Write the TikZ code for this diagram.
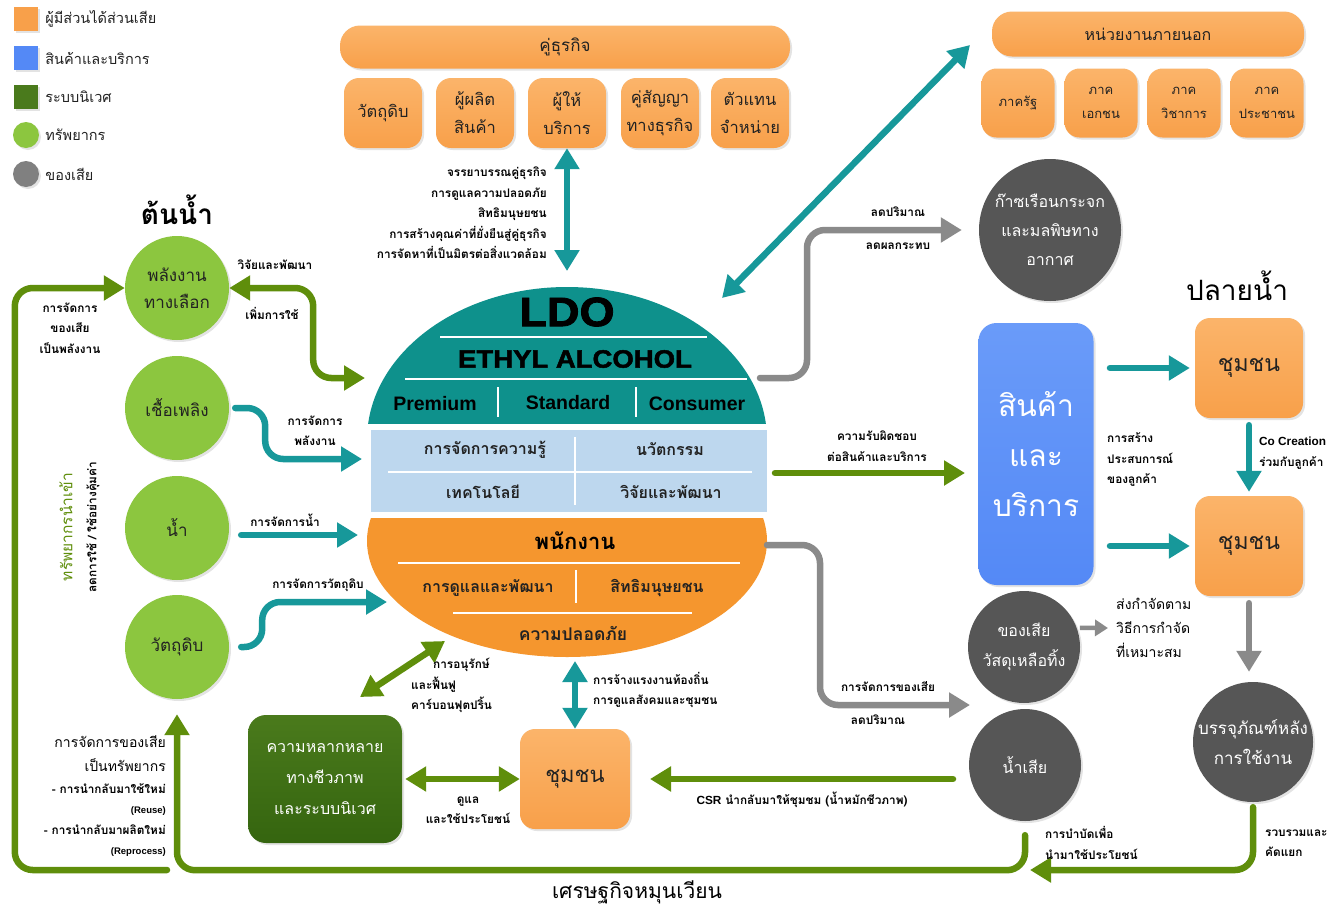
\documentclass[tikz,border=0pt]{standalone}
\usepackage{fontspec}
\setmainfont[Script=Thai]{Loma}
\newfontfamily\latf{Liberation Sans}
\newfontfamily\heavyf[FakeBold=2,FakeStretch=1.1]{Liberation Sans Bold}
\usetikzlibrary{arrows.meta,positioning,shadows}
\definecolor{orangeC}{HTML}{F8A04A}
\definecolor{orangeL}{HTML}{FBB46A}
\definecolor{orangeE}{HTML}{F5962E}
\definecolor{tealC}{HTML}{0E918C}
\definecolor{tealA}{HTML}{17989A}
\definecolor{lblue}{HTML}{BDD7EE}
\definecolor{blueC}{HTML}{5489F6}
\definecolor{blueL}{HTML}{6A9BF9}
\definecolor{dgreen}{HTML}{35650F}
\definecolor{dgreenL}{HTML}{4A7A1C}
\definecolor{lgreen}{HTML}{8CC63F}
\definecolor{garr}{HTML}{5F8E0B}
\definecolor{wgray}{HTML}{565656}
\definecolor{agray}{HTML}{8A8A8A}
\definecolor{txt}{HTML}{222222}
\tikzset{
  shadowed/.style={drop shadow={opacity=0.22,shadow xshift=2pt,shadow yshift=-2pt}},
  legsq/.style={rectangle, minimum size=24pt, inner sep=0pt, shadowed},
  legdot/.style={circle, minimum size=26pt, inner sep=0pt, shadowed},
  legtxt/.style={anchor=west, inner sep=0pt, text=txt, font=\fontsize{14.5}{16}\selectfont},
  stake/.style={rectangle, rounded corners=15pt, top color=orangeL, bottom color=orangeC,
    align=center, text=txt, inner sep=2pt, font=\fontsize{16.5}{28}\selectfont, shadowed},
  res/.style={circle, fill=lgreen, minimum size=104pt, inner sep=0pt, align=center,
    text=txt, font=\fontsize{17}{27}\selectfont, shadowed},
  waste/.style={circle, fill=wgray, minimum size=112pt, inner sep=0pt, shadowed},
  wtxt/.style={align=center, text=white, font=\fontsize{16}{29}\selectfont},
  ldotxt/.style={text=txt, font=\bfseries\fontsize{16}{17}\selectfont},
  sep/.style={white, line width=2pt},
  lbl/.style={align=center, inner sep=1pt, font=\bfseries\fontsize{11.8}{20.5}\selectfont},
  midlbl/.style={align=center, inner sep=1pt, font=\fontsize{14}{24}\selectfont},
  tarrow/.style={draw=tealA, line width=6.5pt, ->, rounded corners=18pt, line cap=round},
  garrow/.style={draw=garr, line width=6.5pt, ->, rounded corners=18pt, line cap=round},
  grarrow/.style={draw=agray, line width=6.5pt, ->, rounded corners=18pt, line cap=round},
  >={Triangle[length=21pt,width=24pt]}
}
\begin{document}
\begin{tikzpicture}[x=1pt,y=-1pt]
\useasboundingbox (0,0) rectangle (1330,908);
\fill[white] (0,0) rectangle (1330,908);
%legend
\node[legsq, fill=orangeC] (lg1) at (26,19) {};
\node[legtxt, right=7pt of lg1] (lt1) {ผู้มีส่วนได้ส่วนเสีย};
\node[legsq, fill=blueC] (lg2) at (26,58) {};
\node[legtxt, right=7pt of lg2] (lt2) {สินค้าและบริการ};
\node[legsq, fill=dgreenL] (lg3) at (26,97) {};
\node[legtxt, right=7pt of lg3] (lt3) {ระบบนิเวศ};
\node[legdot, fill=lgreen] (lg4) at (26,135) {};
\node[legtxt, right=6pt of lg4] (lt4) {ทรัพยากร};
\node[legdot, fill=gray] (lg5) at (26,174) {};
\node[legtxt, right=6pt of lg5] (lt5) {ของเสีย};
%titles
\node[font=\bfseries\fontsize{28}{30}\selectfont] (up) at (177,210) {ต้นน้ำ};
\node[font=\fontsize{28}{30}\selectfont] (down) at (1237,286) {ปลายน้ำ};
%business partners
\node[stake, minimum width=450pt, minimum height=43pt, rounded corners=20pt, font=\fontsize{17}{20}\selectfont] (partner) at (565,47) {คู่ธุรกิจ};
\foreach \x/\n/\t in {383/pa/{วัตถุดิบ}, 475/pb/{ผู้ผลิต\\สินค้า}, 567/pc/{ผู้ให้\\บริการ}, 660/pd/{คู่สัญญา\\ทางธุรกิจ}, 750/pe/{ตัวแทน\\จำหน่าย}}
  \node[stake, minimum width=78pt, minimum height=70pt] (\n) at (\x,113) {\t};
%external agencies
\node[stake, minimum width=312pt, minimum height=45pt, rounded corners=20pt, font=\fontsize{16}{20}\selectfont] (ext) at (1148,34) {หน่วยงานภายนอก};
\foreach \x/\n/\t in {1018/ea/{ภาครัฐ}, 1101/eb/{ภาค\\เอกชน}, 1184/ec/{ภาค\\วิชาการ}, 1267/ed/{ภาค\\ประชาชน}}
  \node[stake, minimum width=73pt, minimum height=69pt, font=\fontsize{13}{24}\selectfont] (\n) at (\x,103) {\t};
%resources
\foreach \y/\n/\t in {288/pl/{พลังงาน\\ทางเลือก}, 408/cf/{เชื้อเพลิง}, 528/wt/{น้ำ}, 647/rm/{วัตถุดิบ}}
  \node[res] (\n) at (177,\y) {\t};
%ldo
\begin{scope}
  \clip (360,280) rectangle (775,423);
  \fill[tealC] (567,440) ellipse [x radius=200pt, y radius=153pt];
\end{scope}
\fill[lblue] (371,430) rectangle (767,512);
\begin{scope}
  \clip (360,518) rectangle (775,665);
  \fill[orangeE] (567,541) ellipse [x radius=200pt, y radius=116pt];
\end{scope}
\draw[sep] (440,337) -- (707,337);
\draw[sep] (405,379) -- (747,379);
\draw[sep] (498,387) -- (498,417);
\draw[sep] (636,387) -- (636,417);
\draw[sep] (388,472) -- (752,472);
\draw[sep] (575,437) -- (575,505);
\draw[sep] (398,563) -- (740,563);
\draw[sep] (576,570) -- (576,603);
\draw[sep] (453,613) -- (692,613);
\node[font=\heavyf\fontsize{41}{41}\selectfont] (ldo) at (567,312) {LDO};
\node[font=\heavyf\fontsize{25}{25}\selectfont] (ethyl) at (575,359) {ETHYL ALCOHOL};
\node[font=\latf\bfseries\fontsize{19.5}{20}\selectfont] (prem) at (435,404) {Premium};
\node[font=\latf\bfseries\fontsize{19.5}{20}\selectfont] (std) at (568,403) {Standard};
\node[font=\latf\bfseries\fontsize{19.5}{20}\selectfont] (cons) at (697,404) {Consumer};
\node[ldotxt] (km) at (485,450) {การจัดการความรู้};
\node[ldotxt] (inno) at (670,449) {นวัตกรรม};
\node[ldotxt] (tech) at (483,492) {เทคโนโลยี};
\node[ldotxt] (rd) at (671,492) {วิจัยและพัฒนา};
\node[ldotxt, text=black, font=\bfseries\fontsize{22}{23}\selectfont] (staff) at (575,541) {พนักงาน};
\node[ldotxt] (care) at (488,588) {การดูแลและพัฒนา};
\node[ldotxt] (hr) at (657,588) {สิทธิมนุษยชน};
\node[ldotxt, font=\bfseries\fontsize{17.5}{18}\selectfont] (safe) at (573,633) {ความปลอดภัย};
%ports on the ldo shape
\coordinate (ldoN) at (567,271);
\coordinate (ldoNE) at (722,298);
\coordinate (ldoE1) at (760,378);
\coordinate (ldoE2) at (775,473);
\coordinate (ldoE3) at (767,545);
\coordinate (ldoS) at (575,661);
\coordinate (ldoSW) at (445,641);
\coordinate (ldoW1) at (365,378);
\coordinate (ldoW2) at (362,459);
\coordinate (ldoW3) at (358,535);
\coordinate (ldoW4) at (387,602);
%products and downstream
\node[rectangle, rounded corners=18pt, top color=blueL, bottom color=blueC, minimum width=115pt, minimum height=262pt,
  align=center, text=white, font=\fontsize{30}{50}\selectfont, shadowed] (prod) at (1036,454) {สินค้า\\และ\\บริการ};
\node[stake, minimum width=108pt, minimum height=100pt, font=\fontsize{23}{24}\selectfont] (cm1) at (1249,368) {ชุมชน};
\node[stake, minimum width=108pt, minimum height=100pt, font=\fontsize{23}{24}\selectfont] (cm2) at (1249,546) {ชุมชน};
%waste
\node[waste, minimum size=142pt] (ghg) at (1050,230) {};
\node[wtxt] (ghgT) at (ghg) {ก๊าซเรือนกระจก\\และมลพิษทาง\\อากาศ};
\node[waste] (wst) at (1024,647) {};
\node[wtxt, font=\fontsize{16}{30}\selectfont] (wstT) at (wst) {ของเสีย\\วัสดุเหลือทิ้ง};
\node[waste] (nsia) at (1025,765) {};
\node[wtxt] (nsiaT) at (nsia) {น้ำเสีย};
\node[waste, minimum size=120pt] (bp) at (1253,742) {};
\node[wtxt, font=\fontsize{17}{30}\selectfont] (bpT) at (bp) {บรรจุภัณฑ์หลัง\\การใช้งาน};
%community and ecosystem
\node[rectangle, rounded corners=18pt, top color=dgreenL, bottom color=dgreen, minimum width=154pt, minimum height=128pt,
  align=center, text=white, font=\fontsize{16}{31}\selectfont, shadowed] (bio) at (325,779) {ความหลากหลาย\\ทางชีวภาพ\\และระบบนิเวศ};
\node[stake, minimum width=110pt, minimum height=100pt, font=\fontsize{22}{24}\selectfont] (cmb) at (575,779) {ชุมชน};
%free ends
\coordinate (extTip) at (970,45);
\coordinate (prodIn) at (965,473);
\coordinate (junc) at (970,705);
\coordinate (dispIn) at (1108,628);
\coordinate (cx1) at (1110,368);
\coordinate (cx2) at (1110,546);
\coordinate (csrA) at (953,779);
\coordinate (csrB) at (650,779);
\coordinate (loopA) at (167,870);
\coordinate (loopD) at (1030,870);
\coordinate (ecoIn) at (360,697);
%connectors
\draw[tarrow, <->] (pc.south) -- (ldoN);
\draw[tarrow, <->] (ldoNE) -- (extTip);
\draw[grarrow] (ldoE1) -| (807,230) -- ([xshift=-17pt]ghg.west);
\draw[garrow] (ldoE2) -- (prodIn);
\draw[grarrow] (ldoE3) -| (820,705) -- (junc);
\draw[draw=agray, line width=4.5pt, -{Triangle[length=13pt,width=16pt]}, shorten <=3pt] (wst.20) -- (dispIn);
\draw[tarrow] (cx1) -- ([xshift=-5pt]cm1.west);
\draw[tarrow] (cx2) -- ([xshift=-5pt]cm2.west);
\draw[tarrow, shorten <=7pt, shorten >=4pt] (cm1.south) -- (cm2.north);
\draw[grarrow, shorten <=7pt, shorten >=10pt] (cm2.south) -- (cm2.south |- bp.north);
\draw[garrow, shorten <=5pt] (bp.south) |- (loopD);
\draw[garrow, shorten <=14pt] (nsia.south) -- ++(0,49) -| ([yshift=-15pt]rm.south);
\draw[garrow] (loopA) -| ([xshift=-110pt]pl.west) -- (pl.west);
\draw[garrow] (csrA) -- (csrB);
\draw[garrow, <->] (pl.east) -- ++(84,0) |- (ldoW1);
\draw[tarrow, shorten <=6pt] (cf.east) -- ++(36,0) |- (ldoW2);
\draw[tarrow] ([xshift=12pt,yshift=-7pt]wt.east) -- (ldoW3);
\draw[tarrow, shorten <=12pt] (rm.east) -- ++(33,0) |- (ldoW4);
\draw[garrow, <->] (ldoSW) -- (ecoIn);
\draw[garrow, <->, shorten <=3pt] (bio.east) -- (cmb.west);
\draw[tarrow, <->] (ldoS) -- (cmb.north);
%labels
\node[lbl, align=right, anchor=east] (lpart) at (548,213) {จรรยาบรรณคู่ธุรกิจ\\การดูแลความปลอดภัย\\สิทธิมนุษยชน\\การสร้างคุณค่าที่ยั่งยืนสู่คู่ธุรกิจ\\การจัดหาที่เป็นมิตรต่อสิ่งแวดล้อม};
\node[lbl] (lrd) at (275,265) {วิจัยและพัฒนา};
\node[lbl] (luse) at (272,313) {เพิ่มการใช้};
\node[lbl] (lfuel) at (315,431) {การจัดการ\\พลังงาน};
\node[lbl] (lwater) at (285,520) {การจัดการน้ำ};
\node[lbl] (lraw) at (318,585) {การจัดการวัตถุดิบ};
\node[lbl] (lwe) at (70,328) {การจัดการ\\ของเสีย\\เป็นพลังงาน};
\node[rotate=90, text=garr, font=\fontsize{15.5}{17}\selectfont] (linput) at (66,527) {ทรัพยากรนำเข้า};
\node[lbl, rotate=90] (lreduce) at (93,527) {ลดการใช้ / ใช้อย่างคุ้มค่า};
\node[lbl] (lghg1) at (898,212) {ลดปริมาณ};
\node[lbl] (lghg2) at (898,246) {ลดผลกระทบ};
\node[lbl] (lresp) at (877,446) {ความรับผิดชอบ\\ต่อสินค้าและบริการ};
\node[lbl] (lwm1) at (888,687) {การจัดการของเสีย};
\node[lbl] (lwm2) at (878,720) {ลดปริมาณ};
\node[lbl, align=left, anchor=west] (lexp) at (1106,460) {การสร้าง\\ประสบการณ์\\ของลูกค้า};
\node[lbl, align=left, anchor=west] (lco) at (1258,453) {{\latf Co Creation}\\ร่วมกับลูกค้า};
\node[midlbl, align=left, anchor=west] (ldisp) at (1115,628) {ส่งกำจัดตาม\\วิธีการกำจัด\\ที่เหมาะสม};
\node[lbl, align=left, anchor=west] (ltreat) at (1044,843) {การบำบัดเพื่อ\\นำมาใช้ประโยชน์};
\node[lbl, align=left, anchor=west] (lsort) at (1264,843) {รวบรวมและ\\คัดแยก};
\node[lbl] (lcsr) at (802,800) {{\latf CSR} นำกลับมาให้ชุมชม (น้ำหมักชีวภาพ)};
\node[lbl, align=left, anchor=west] (ljob) at (592,690) {การจ้างแรงงานท้องถิ่น\\การดูแลสังคมและชุมชน};
\node[lbl] (lben) at (468,810) {ดูแล\\และใช้ประโยชน์};
\node[lbl, anchor=west] (lcon1) at (432,665) {การอนุรักษ์};
\node[lbl, align=left, anchor=west] (lcon2) at (410,695) {และฟื้นฟู\\คาร์บอนฟุตปริ้น};
\node[midlbl, align=right, anchor=east] (lwr1) at (167,754) {การจัดการของเสีย\\เป็นทรัพยากร};
\node[lbl, align=right, anchor=east] (lwr2) at (167,820) {- การนำกลับมาใช้ใหม่\\{\latf\fontsize{9.5}{20.5}\selectfont (Reuse)}\\- การนำกลับมาผลิตใหม่\\{\latf\fontsize{9.5}{20.5}\selectfont (Reprocess)}};
\node[font=\fontsize{21}{24}\selectfont] (lce) at (637,892) {เศรษฐกิจหมุนเวียน};
\end{tikzpicture}
\end{document}
